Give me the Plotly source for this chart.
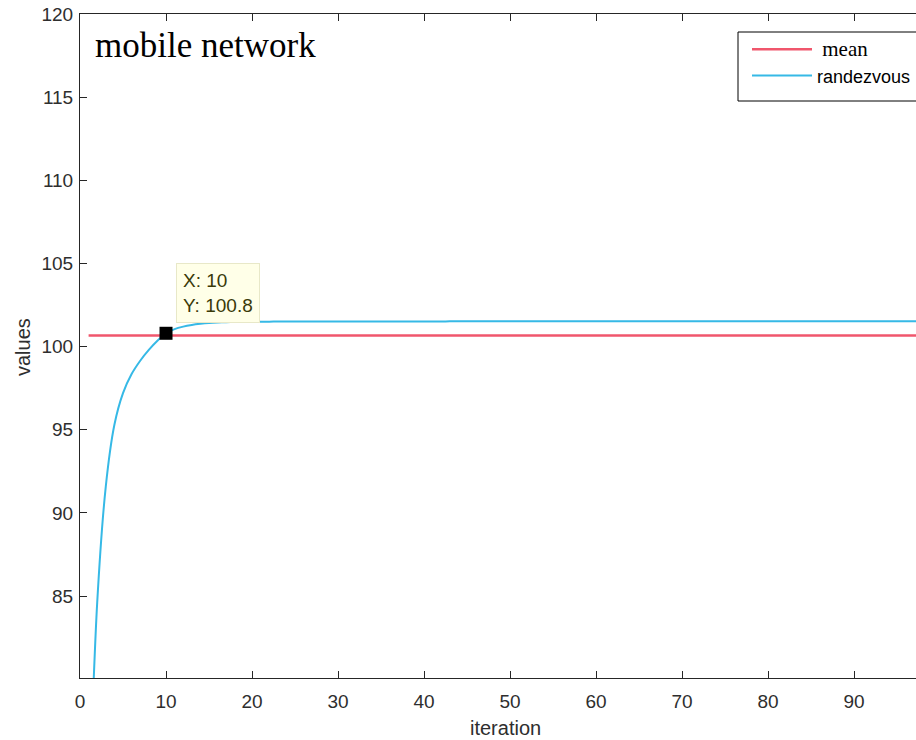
import plotly.graph_objects as go

iterations = list(range(1, 101))
randezvous = [
    71.7, 84.6, 91.6, 95.3, 97.2, 98.35, 99.15, 99.8, 100.35, 100.8,
    101.05, 101.2, 101.3, 101.37, 101.42, 101.45, 101.47, 101.48, 101.49, 101.5,
    101.5, 101.5, 101.51, 101.51, 101.51, 101.51, 101.51, 101.51, 101.51, 101.51,
    101.51, 101.51, 101.51, 101.51, 101.51, 101.51, 101.51, 101.51, 101.51, 101.51,
    101.51, 101.51, 101.52, 101.52, 101.52, 101.52, 101.52, 101.52, 101.52, 101.52,
    101.52, 101.52, 101.52, 101.52, 101.52, 101.52, 101.52, 101.52, 101.52, 101.52,
    101.52, 101.52, 101.52, 101.52, 101.52, 101.52, 101.52, 101.52, 101.52, 101.52,
    101.52, 101.52, 101.52, 101.52, 101.52, 101.52, 101.52, 101.52, 101.52, 101.52,
    101.52, 101.52, 101.52, 101.52, 101.52, 101.52, 101.52, 101.52, 101.52, 101.52,
    101.52, 101.52, 101.52, 101.52, 101.52, 101.52, 101.52, 101.52, 101.52, 101.52,
]
mean_value = 100.66
mean_line = [mean_value] * len(iterations)
tip_x = 10
tip_y = 100.8
x_ticks = [0, 10, 20, 30, 40, 50, 60, 70, 80, 90, 100]
y_ticks = [85, 90, 95, 100, 105, 110, 115, 120]

SANS = "Liberation Sans, Arial, sans-serif"
SERIF = "Liberation Serif, Times New Roman, serif"
RED = "#f0566c"
BLUE = "#36b9e6"
TXT = "#2e2e2e"

# plot area: left 80px, top 14px, width 836px, height 664px
PL, PT, PW, PH = 80, 14, 836, 664


def px_x(p):
    return (p - PL) / PW


def px_y(p):
    return 1 - (p - PT) / PH


fig = go.Figure()
fig.add_trace(go.Scatter(
    x=iterations, y=mean_line, mode="lines",
    line=dict(color=RED, width=2.5),
    name="<span style='font-family:Liberation Serif;font-size:21px'>&nbsp;mean</span>",
))
fig.add_trace(go.Scatter(
    x=iterations, y=randezvous, mode="lines",
    line=dict(color=BLUE, width=2, shape="spline", smoothing=0.8),
    name="randezvous",
))
fig.add_trace(go.Scatter(
    x=[tip_x], y=[tip_y], mode="markers",
    marker=dict(symbol="square", size=13, color="black"),
    showlegend=False,
))

axis_common = dict(
    showline=True, linecolor="#262626", linewidth=1,
    ticks="inside", ticklen=7, tickcolor="#262626",
    showgrid=False, zeroline=False,
    tickfont=dict(family=SANS, size=19, color=TXT),
)
fig.update_xaxes(range=[0, 97.2], tickvals=x_ticks, mirror="ticks", ticklabelstandoff=6, **axis_common)
fig.update_yaxes(range=[80.07, 120], tickvals=y_ticks, mirror=False, ticklabelstandoff=2, **axis_common)

# axis titles
fig.add_annotation(
    xref="paper", yref="paper", x=px_x(505), y=px_y(728), xanchor="center", yanchor="middle",
    text="iteration", showarrow=False, font=dict(family=SANS, size=20, color=TXT),
)
fig.add_annotation(
    xref="paper", yref="paper", x=px_x(23), y=px_y(347), xanchor="center", yanchor="middle",
    text="values", textangle=-90, showarrow=False, font=dict(family=SANS, size=20, color=TXT),
)

# in-plot title
fig.add_annotation(
    xref="paper", yref="paper", x=px_x(93), y=px_y(24), xanchor="left", yanchor="top",
    text="mobile network", showarrow=False,
    font=dict(family=SERIF, size=35, color="black"),
)

# data tip
fig.add_annotation(
    x=tip_x, y=tip_y, xref="x", yref="y", xanchor="left", yanchor="bottom",
    xshift=10, yshift=10, showarrow=False, align="left",
    text=f"X: {tip_x}<br>Y: {tip_y}",
    font=dict(family=SANS, size=19, color="#3a3a08"),
    bgcolor="#ffffe8", bordercolor="#e8e8c8", borderwidth=1, borderpad=6,
)

# legend box
fig.add_shape(
    type="rect", xref="paper", yref="paper",
    x0=px_x(738), x1=px_x(925), y0=px_y(101), y1=px_y(32),
    line=dict(color="black", width=1), fillcolor="white", layer="above",
)

fig.update_layout(
    width=916, height=740,
    margin=dict(l=PL, r=0, t=PT, b=740 - PT - PH),
    paper_bgcolor="white", plot_bgcolor="white",
    showlegend=True,
    legend=dict(
        x=px_x(747), xref="paper", y=px_y(31), xanchor="left", yanchor="top",
        bgcolor="rgba(0,0,0,0)", borderwidth=0,
        font=dict(family=SANS, size=18, color="black"),
        itemwidth=60, tracegroupgap=0,
    ),
)

fig.write_html("out.html")
